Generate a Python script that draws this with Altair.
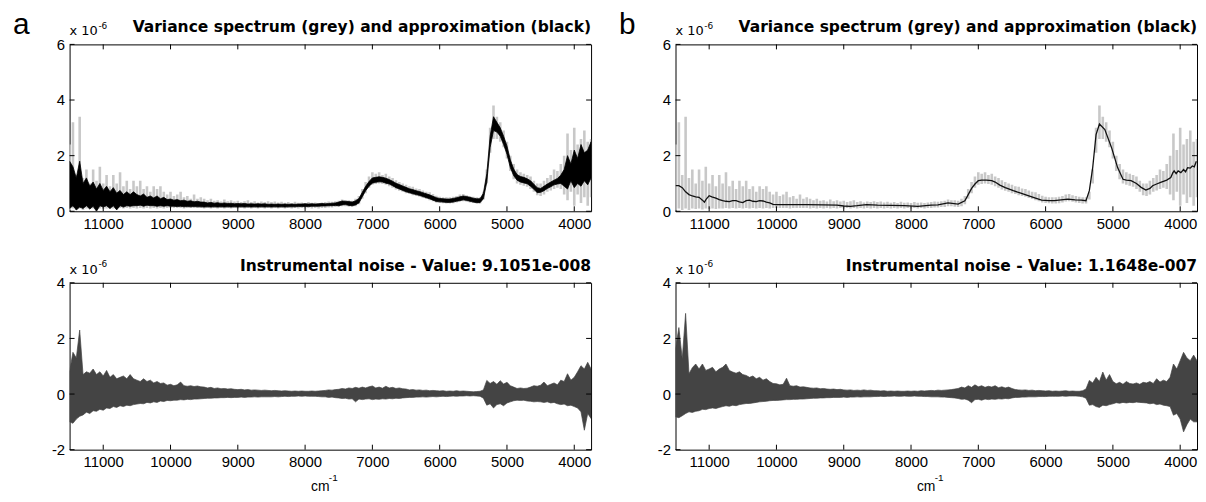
import altair as alt
import pandas as pd

FONT = "Liberation Sans"
TFONT = "DejaVu Sans"

# sampling positions (cm-1), every 50 cm-1 from 11500 down to 3750
WN = list(range(11500, 3749, -50))

# variance spectrum (grey), x 1e-6 : lower / upper envelope
GREY_HI = [2.4, 3.2, 1.3, 3.4, 1.2, 1.5, 1.0, 1.5, 1.1, 1.6, 1.0, 1.3, 0.9, 1.3, 1.0, 1.4, 0.9, 1.1, 0.8, 1.1,
           0.9, 1.1, 0.8, 0.9, 0.7, 0.9, 0.8, 0.9, 0.7, 0.6, 0.7, 0.55, 0.6, 0.7, 0.5, 0.55, 0.45, 0.6, 0.45, 0.5,
           0.45, 0.4, 0.45, 0.38, 0.4, 0.35, 0.42, 0.36, 0.4, 0.35, 0.38, 0.33, 0.36, 0.4, 0.33, 0.36, 0.32, 0.35, 0.33, 0.36,
           0.33, 0.35, 0.32, 0.34, 0.31, 0.33, 0.3, 0.34, 0.31, 0.32, 0.3, 0.33, 0.31, 0.32, 0.3, 0.32, 0.33, 0.35, 0.34, 0.36,
           0.38, 0.42, 0.4, 0.4, 0.38, 0.45, 0.55, 0.8, 1.05, 1.25, 1.4, 1.35, 1.4, 1.3, 1.35, 1.25, 1.2, 1.12, 1.05, 1.0,
           0.95, 0.9, 0.88, 0.82, 0.8, 0.75, 0.7, 0.68, 0.62, 0.56, 0.52, 0.5, 0.5, 0.5, 0.52, 0.55, 0.6, 0.62, 0.58, 0.55,
           0.52, 0.5, 0.5, 0.7, 1.5, 3.0, 3.8, 3.4, 3.2, 2.9, 2.5, 2.0, 1.7, 1.5, 1.4, 1.35, 1.3, 1.25, 1.1, 1.0,
           1.0, 1.1, 1.2, 1.3, 1.5, 1.45, 1.7, 2.0, 2.8, 2.2, 3.0, 2.4, 2.6, 2.9, 2.5, 2.6]
GREY_LO = [0.05, 0.1, 0.05, 0.1, 0.05, 0.1, 0.08, 0.1, 0.06, 0.1, 0.08, 0.1, 0.08, 0.1, 0.1, 0.12, 0.1, 0.12, 0.1, 0.12,
           0.1, 0.12, 0.1, 0.12, 0.1, 0.12, 0.1, 0.12, 0.1, 0.12, 0.12, 0.12, 0.12, 0.12, 0.1, 0.12, 0.12, 0.12, 0.12, 0.12,
           0.1, 0.12, 0.1, 0.12, 0.1, 0.12, 0.1, 0.12, 0.1, 0.12, 0.1, 0.12, 0.1, 0.12, 0.1, 0.12, 0.1, 0.12, 0.1, 0.12,
           0.1, 0.12, 0.1, 0.12, 0.1, 0.12, 0.1, 0.12, 0.1, 0.12, 0.1, 0.12, 0.1, 0.12, 0.1, 0.12, 0.12, 0.14, 0.14, 0.15,
           0.15, 0.18, 0.18, 0.16, 0.15, 0.18, 0.25, 0.45, 0.65, 0.85, 0.95, 0.98, 1.0, 0.98, 0.95, 0.9, 0.85, 0.78, 0.74, 0.7,
           0.65, 0.62, 0.58, 0.55, 0.52, 0.48, 0.44, 0.4, 0.36, 0.32, 0.3, 0.29, 0.28, 0.28, 0.29, 0.32, 0.35, 0.36, 0.34, 0.32,
           0.3, 0.28, 0.28, 0.42, 1.0, 2.1, 2.6, 2.6, 2.5, 2.3, 1.9, 1.45, 1.15, 1.0, 0.95, 0.92, 0.88, 0.8, 0.7, 0.58,
           0.55, 0.6, 0.7, 0.75, 0.8, 0.85, 0.8, 0.6, 0.4, 0.7, 0.2, 0.6, 0.3, 0.5, 0.2, 0.5]

# approximation (a), black, noisy : lower / upper envelope
A_HI = [1.8, 1.6, 1.2, 1.8, 1.0, 1.2, 0.9, 1.05, 0.8, 1.0, 0.75, 0.9, 0.7, 0.85, 0.65, 0.75, 0.6, 0.7, 0.6, 0.7,
        0.6, 0.55, 0.62, 0.5, 0.55, 0.48, 0.55, 0.45, 0.5, 0.42, 0.44, 0.4, 0.42, 0.38, 0.4, 0.36, 0.38, 0.34, 0.36, 0.33,
        0.33, 0.3, 0.32, 0.29, 0.31, 0.28, 0.3, 0.28, 0.29, 0.27, 0.28, 0.27, 0.28, 0.26, 0.27, 0.26, 0.27, 0.26, 0.27, 0.25,
        0.26, 0.25, 0.26, 0.25, 0.26, 0.25, 0.26, 0.25, 0.26, 0.26, 0.27, 0.26, 0.27, 0.26, 0.27, 0.28, 0.27, 0.28, 0.29, 0.3,
        0.33, 0.37, 0.36, 0.35, 0.33, 0.38, 0.46, 0.68, 0.9, 1.07, 1.2, 1.22, 1.24, 1.22, 1.19, 1.14, 1.08, 1.01, 0.96, 0.91,
        0.86, 0.81, 0.78, 0.74, 0.71, 0.67, 0.63, 0.59, 0.54, 0.49, 0.46, 0.45, 0.44, 0.44, 0.46, 0.49, 0.52, 0.55, 0.53, 0.5,
        0.47, 0.45, 0.45, 0.65, 1.35, 2.7, 3.4, 3.2, 3.0, 2.7, 2.35, 1.85, 1.52, 1.32, 1.25, 1.22, 1.17, 1.1, 0.97, 0.85,
        0.82, 0.9, 0.98, 1.05, 1.12, 1.18, 1.3, 1.5, 2.0, 1.7, 2.2, 1.9, 2.4, 2.1, 2.2, 2.5]
A_LO = [0.1, 0.2, 0.05, 0.15, 0.1, 0.2, 0.08, 0.18, 0.0, 0.2, 0.15, 0.2, 0.1, 0.2, 0.05, 0.2, 0.15, 0.2, 0.18, 0.2,
        0.2, 0.22, 0.18, 0.22, 0.2, 0.2, 0.18, 0.2, 0.18, 0.2, 0.18, 0.18, 0.17, 0.18, 0.16, 0.17, 0.16, 0.17, 0.16, 0.16,
        0.15, 0.16, 0.15, 0.16, 0.15, 0.16, 0.15, 0.16, 0.15, 0.16, 0.15, 0.16, 0.15, 0.16, 0.15, 0.16, 0.15, 0.16, 0.15, 0.16,
        0.15, 0.16, 0.15, 0.16, 0.15, 0.16, 0.16, 0.16, 0.17, 0.17, 0.17, 0.17, 0.18, 0.18, 0.18, 0.19, 0.19, 0.2, 0.2, 0.21,
        0.2, 0.23, 0.24, 0.21, 0.2, 0.23, 0.3, 0.52, 0.74, 0.9, 1.01, 1.04, 1.06, 1.05, 1.01, 0.98, 0.92, 0.85, 0.8, 0.75,
        0.7, 0.67, 0.63, 0.6, 0.57, 0.53, 0.49, 0.45, 0.4, 0.35, 0.34, 0.33, 0.32, 0.32, 0.33, 0.36, 0.38, 0.41, 0.39, 0.36,
        0.33, 0.31, 0.31, 0.45, 1.05, 2.3, 2.9, 2.85, 2.7, 2.4, 2.05, 1.57, 1.28, 1.12, 1.05, 1.02, 0.99, 0.9, 0.79, 0.67,
        0.68, 0.74, 0.82, 0.88, 0.95, 0.98, 1.0, 0.9, 0.8, 1.1, 0.85, 1.0, 0.9, 1.1, 0.95, 1.2]

# approximation (b), smooth black curve
B_WN = [11500, 11450, 11400, 11350, 11300, 11250, 11200, 11150, 11100, 11070, 11040, 11000, 10960, 10900, 10850,
        10800, 10750, 10700, 10650, 10600, 10550, 10500, 10450, 10400, 10350, 10300, 10250, 10200, 10150, 10100,
        10050, 10000, 9800, 9550, 9300, 9100, 9000, 8900, 8800, 8660, 8500, 8300, 8100, 7900, 7700, 7600, 7450,
        7300, 7200, 7150, 7100, 7050, 7000, 6950, 6880, 6800, 6750, 6680, 6600, 6480, 6380, 6260, 6150, 6060,
        5950, 5870, 5770, 5670, 5560, 5470, 5400, 5350, 5300, 5250, 5200, 5120, 5020, 4930, 4850, 4800, 4730,
        4650, 4580, 4510, 4450, 4410, 4350, 4290, 4200, 4140, 4110, 4090, 4060, 4030, 3990, 3950, 3920, 3890,
        3850, 3820, 3790, 3760]
B_Y = [0.92, 0.92, 0.85, 0.7, 0.6, 0.55, 0.52, 0.5, 0.4, 0.33, 0.45, 0.56, 0.52, 0.47, 0.42,
       0.38, 0.36, 0.35, 0.38, 0.38, 0.34, 0.31, 0.38, 0.4, 0.36, 0.35, 0.38, 0.37, 0.33, 0.3,
       0.25, 0.24, 0.24, 0.24, 0.23, 0.22, 0.19, 0.18, 0.2, 0.24, 0.22, 0.21, 0.2, 0.18, 0.22, 0.23, 0.3,
       0.26, 0.38, 0.6, 0.82, 0.98, 1.1, 1.12, 1.12, 1.1, 1.05, 0.94, 0.85, 0.74, 0.66, 0.56, 0.47, 0.4,
       0.38, 0.38, 0.41, 0.44, 0.41, 0.4, 0.38, 0.74, 1.57, 2.76, 3.14, 2.94, 2.29, 1.57, 1.15, 1.12, 1.1,
       1.0, 0.86, 0.76, 0.82, 0.92, 0.98, 1.04, 1.12, 1.21, 1.38, 1.45, 1.35, 1.45, 1.39, 1.5, 1.42, 1.57,
       1.55, 1.63, 1.6, 1.8]

# instrumental noise (a), x 1e-6 : lower / upper envelope
NA_HI = [0.8, 1.5, 1.3, 2.3, 0.7, 0.8, 0.75, 0.9, 0.7, 0.8, 0.65, 0.85, 0.6, 0.7, 0.55, 0.6, 0.65, 0.55, 0.7, 0.55,
         0.5, 0.45, 0.55, 0.45, 0.5, 0.4, 0.45, 0.38, 0.4, 0.32, 0.35, 0.3, 0.33, 0.43, 0.3, 0.28, 0.3, 0.27, 0.29, 0.26,
         0.25, 0.22, 0.24, 0.2, 0.22, 0.19, 0.2, 0.18, 0.19, 0.17, 0.16, 0.17, 0.15, 0.16, 0.14, 0.15, 0.14, 0.13, 0.14, 0.13,
         0.12, 0.13, 0.12, 0.11, 0.12, 0.11, 0.1, 0.11, 0.1, 0.11, 0.1, 0.1, 0.11, 0.1, 0.11, 0.12, 0.13, 0.15, 0.14, 0.16,
         0.17, 0.2, 0.18, 0.22, 0.2, 0.24, 0.21, 0.25, 0.22, 0.26, 0.29, 0.22, 0.25, 0.21, 0.28, 0.22, 0.24, 0.2, 0.22, 0.19,
         0.18, 0.15, 0.16, 0.14, 0.15, 0.13, 0.14, 0.12, 0.13, 0.12, 0.11, 0.12, 0.1, 0.11, 0.1, 0.12, 0.1, 0.11, 0.1, 0.09,
         0.08, 0.09, 0.1, 0.15, 0.49, 0.38, 0.45, 0.35, 0.48, 0.36, 0.42, 0.3, 0.25, 0.2, 0.22, 0.2, 0.21, 0.25, 0.3, 0.28,
         0.32, 0.43, 0.3, 0.35, 0.4, 0.33, 0.5, 0.45, 0.73, 0.5, 0.6, 0.8, 1.02, 0.9, 1.14, 0.9]
NA_LO = [-1.0, -1.05, -0.9, -0.8, -0.75, -0.65, -0.7, -0.6, -0.62, -0.55, -0.58, -0.5, -0.52, -0.45, -0.48, -0.42, -0.45, -0.4, -0.42, -0.38,
         -0.36, -0.34, -0.35, -0.3, -0.32, -0.28, -0.3, -0.25, -0.27, -0.23, -0.24, -0.22, -0.22, -0.2, -0.21, -0.19, -0.2, -0.18, -0.18, -0.17,
         -0.16, -0.15, -0.15, -0.14, -0.14, -0.13, -0.13, -0.12, -0.13, -0.12, -0.12, -0.11, -0.12, -0.11, -0.11, -0.1, -0.11, -0.1, -0.1, -0.1,
         -0.1, -0.09, -0.1, -0.09, -0.08, -0.09, -0.08, -0.08, -0.07, -0.08, -0.07, -0.08, -0.08, -0.08, -0.09, -0.1, -0.1, -0.12, -0.11, -0.13,
         -0.14, -0.16, -0.15, -0.18, -0.17, -0.28, -0.18, -0.2, -0.18, -0.17, -0.2, -0.18, -0.19, -0.17, -0.18, -0.16, -0.17, -0.15, -0.16, -0.14,
         -0.13, -0.12, -0.12, -0.11, -0.11, -0.1, -0.11, -0.1, -0.09, -0.1, -0.09, -0.08, -0.09, -0.08, -0.07, -0.08, -0.07, -0.07, -0.06, -0.07,
         -0.06, -0.07, -0.08, -0.15, -0.4, -0.35, -0.5, -0.38, -0.35, -0.42, -0.32, -0.28, -0.24, -0.22, -0.23, -0.22, -0.25, -0.26, -0.28, -0.27,
         -0.28, -0.3, -0.28, -0.32, -0.3, -0.35, -0.38, -0.36, -0.42, -0.4, -0.45, -0.5, -0.64, -1.3, -0.7, -0.88]

# instrumental noise (b), x 1e-6 : lower / upper envelope
NB_HI = [1.62, 2.39, 1.26, 2.9, 0.73, 0.95, 1.08, 0.9, 1.08, 0.85, 0.9, 0.96, 0.8, 0.9, 0.96, 1.08, 0.85, 0.79, 0.75, 0.8,
         0.7, 0.67, 0.6, 0.65, 0.55, 0.6, 0.5, 0.55, 0.45, 0.38, 0.37, 0.33, 0.35, 0.57, 0.3, 0.28, 0.3, 0.25, 0.26, 0.24,
         0.22, 0.21, 0.22, 0.19, 0.2, 0.18, 0.17, 0.18, 0.16, 0.17, 0.15, 0.14, 0.15, 0.13, 0.14, 0.13, 0.15, 0.13, 0.14, 0.12,
         0.12, 0.11, 0.12, 0.1, 0.11, 0.1, 0.11, 0.1, 0.1, 0.11, 0.1, 0.11, 0.1, 0.12, 0.11, 0.12, 0.13, 0.12, 0.14, 0.13,
         0.14, 0.15, 0.16, 0.18, 0.2, 0.25, 0.22, 0.3, 0.24, 0.33, 0.26, 0.3, 0.24, 0.28, 0.25, 0.3, 0.23, 0.26, 0.22, 0.25,
         0.2, 0.16, 0.15, 0.14, 0.15, 0.13, 0.14, 0.12, 0.13, 0.12, 0.11, 0.12, 0.1, 0.11, 0.1, 0.11, 0.12, 0.1, 0.11, 0.1,
         0.1, 0.12, 0.18, 0.49, 0.4, 0.6, 0.45, 0.79, 0.5, 0.7, 0.45, 0.37, 0.42, 0.35, 0.45, 0.38, 0.36, 0.4, 0.35, 0.42,
         0.4, 0.45, 0.38, 0.55, 0.43, 0.5, 0.45, 0.6, 1.08, 0.9, 1.2, 1.5, 1.3, 1.2, 1.4, 1.2]
NB_LO = [-0.82, -0.85, -0.78, -0.7, -0.64, -0.66, -0.62, -0.6, -0.55, -0.56, -0.52, -0.5, -0.52, -0.48, -0.45, -0.42, -0.44, -0.4, -0.42, -0.38,
         -0.36, -0.34, -0.34, -0.32, -0.3, -0.28, -0.27, -0.26, -0.24, -0.23, -0.23, -0.22, -0.21, -0.2, -0.2, -0.19, -0.19, -0.18, -0.18, -0.17,
         -0.16, -0.15, -0.15, -0.14, -0.14, -0.13, -0.13, -0.12, -0.12, -0.12, -0.11, -0.12, -0.11, -0.11, -0.1, -0.11, -0.1, -0.1, -0.1, -0.09,
         -0.09, -0.08, -0.09, -0.08, -0.08, -0.07, -0.08, -0.08, -0.07, -0.08, -0.08, -0.07, -0.08, -0.08, -0.09, -0.09, -0.1, -0.1, -0.1, -0.11,
         -0.11, -0.12, -0.13, -0.14, -0.16, -0.19, -0.18, -0.22, -0.31, -0.2, -0.19, -0.22, -0.18, -0.2, -0.18, -0.19, -0.17, -0.18, -0.16, -0.17,
         -0.14, -0.12, -0.12, -0.11, -0.11, -0.1, -0.1, -0.1, -0.09, -0.09, -0.09, -0.08, -0.08, -0.08, -0.08, -0.07, -0.08, -0.07, -0.07, -0.07,
         -0.08, -0.1, -0.15, -0.4, -0.38, -0.45, -0.48, -0.4, -0.42, -0.38, -0.35, -0.31, -0.33, -0.3, -0.32, -0.3, -0.31, -0.29, -0.3, -0.31,
         -0.32, -0.35, -0.33, -0.38, -0.36, -0.4, -0.42, -0.45, -0.76, -0.7, -0.9, -1.36, -1.1, -0.9, -1.0, -1.0]

X_TICKS = [11000, 10000, 9000, 8000, 7000, 6000, 5000, 4000]
TOP_Y_TICKS = [0, 2, 4, 6]
BOT_Y_TICKS = [-2, 0, 2, 4]
TOP_TITLE = "Variance spectrum (grey) and approximation (black)"
NOISE_TITLES = ["Instrumental noise - Value: 9.1051e-008", "Instrumental noise - Value: 1.1648e-007"]
LETTERS = ["a", "b"]

W, H = 525, 168
XS = alt.Scale(domain=[3750, 11500], reverse=True, nice=False, zero=False)

spec = pd.DataFrame({"wn": WN, "glo": GREY_LO, "ghi": GREY_HI, "alo": A_LO, "ahi": A_HI,
                     "nalo": NA_LO, "nahi": NA_HI, "nblo": NB_LO, "nbhi": NB_HI})
approx_b = pd.DataFrame({"wn": B_WN, "y": B_Y})
one = pd.DataFrame({"k": [0]})

XAX = alt.Axis(values=X_TICKS, format="d", ticks=False, domain=False, grid=False,
               labelFont=FONT, labelFontSize=15, labelPadding=5, labelColor="black",
               labelFlush=False, labelOverlap=False, title=None)


def y_axis(vals):
    return alt.Axis(values=vals, labelExpr="'' + datum.value", ticks=False, domain=False, grid=False,
                    labelFont=FONT, labelFontSize=15, labelPadding=5, labelColor="black",
                    labelFlush=False, labelOverlap=False, title=None)


def frame_ticks(ys, yax, yvals):
    tx = alt.Chart(pd.DataFrame({"t": X_TICKS}))
    ty = alt.Chart(pd.DataFrame({"t": yvals}))
    xe = alt.X("t:Q", scale=XS, axis=XAX)
    ye = alt.Y("t:Q", scale=ys, axis=yax)
    return [
        tx.mark_rule(color="black", strokeWidth=1).encode(x=xe, y=alt.value(0), y2=alt.value(5)),
        tx.mark_rule(color="black", strokeWidth=1).encode(x=xe, y=alt.value(H), y2=alt.value(H - 5)),
        ty.mark_rule(color="black", strokeWidth=1).encode(y=ye, x=alt.value(0), x2=alt.value(5)),
        ty.mark_rule(color="black", strokeWidth=1).encode(y=ye, x=alt.value(W), x2=alt.value(W - 5)),
    ]


def header(text):
    return [
        alt.Chart(one).mark_text(text="x 10", font=TFONT, fontSize=13, align="left", baseline="alphabetic",
                                 color="black").encode(x=alt.value(0), y=alt.value(-9)),
        alt.Chart(one).mark_text(text="-6", font=TFONT, fontSize=9, align="left", baseline="alphabetic",
                                 color="black").encode(x=alt.value(29), y=alt.value(-16)),
        alt.Chart(one).mark_text(text=text, font=TFONT, fontSize=15.6, fontWeight="bold", align="right",
                                 baseline="alphabetic", color="black").encode(x=alt.value(W), y=alt.value(-12)),
    ]


def top_panel(i):
    ys = alt.Scale(domain=[0, 6], nice=False, zero=False)
    yax = y_axis(TOP_Y_TICKS)
    base = alt.Chart(spec)
    grey = base.mark_rule(color="#c8c8c8", strokeWidth=2.6, clip=True).encode(
        x=alt.X("wn:Q", scale=XS, axis=XAX),
        y=alt.Y("glo:Q", scale=ys, axis=yax),
        y2="ghi:Q")
    if i == 0:
        approx = base.mark_area(color="black", stroke="black", strokeWidth=0.8, clip=True).encode(
            x=alt.X("wn:Q", scale=XS, axis=XAX), y=alt.Y("alo:Q", scale=ys, axis=yax), y2="ahi:Q")
    else:
        approx = alt.Chart(approx_b).mark_line(color="#111111", strokeWidth=1.3, clip=True).encode(
            x=alt.X("wn:Q", scale=XS, axis=XAX), y=alt.Y("y:Q", scale=ys, axis=yax))
    letter = alt.Chart(one).mark_text(text=LETTERS[i], font=FONT, fontSize=30, align="left",
                                      baseline="alphabetic", color="black").encode(
        x=alt.value(-57), y=alt.value(-10))
    layers = [grey, approx] + frame_ticks(ys, yax, TOP_Y_TICKS) + header(TOP_TITLE) + [letter]
    return alt.layer(*layers).properties(width=W, height=H)


def noise_panel(i):
    ys = alt.Scale(domain=[-2, 4], nice=False, zero=False)
    yax = y_axis(BOT_Y_TICKS)
    lo, hi = ("nalo", "nahi") if i == 0 else ("nblo", "nbhi")
    noise = alt.Chart(spec).mark_area(color="#444444", stroke="#444444", strokeWidth=0.7, clip=True).encode(
        x=alt.X("wn:Q", scale=XS, axis=XAX),
        y=alt.Y(f"{lo}:Q", scale=ys, axis=yax),
        y2=f"{hi}:Q")
    unit = [
        alt.Chart(one).mark_text(text="cm", font=FONT, fontSize=14, align="left", baseline="alphabetic",
                                 color="black").encode(x=alt.value(243), y=alt.value(H + 42)),
        alt.Chart(one).mark_text(text="-1", font=FONT, fontSize=10, align="left", baseline="alphabetic",
                                 color="black").encode(x=alt.value(261), y=alt.value(H + 32)),
    ]
    layers = [noise] + frame_ticks(ys, yax, BOT_Y_TICKS) + header(NOISE_TITLES[i]) + unit
    return alt.layer(*layers).properties(width=W, height=H)


chart = alt.concat(
    top_panel(0), top_panel(1), noise_panel(0), noise_panel(1),
    columns=2, spacing={"row": 72, "column": 85}, bounds="flush",
).properties(
    padding={"left": 4, "top": 0, "right": 0, "bottom": 0},
).configure(background="white").configure_view(stroke="black", strokeWidth=1)

chart.save("out.html", embed_options={"renderer": "svg", "actions": False})
